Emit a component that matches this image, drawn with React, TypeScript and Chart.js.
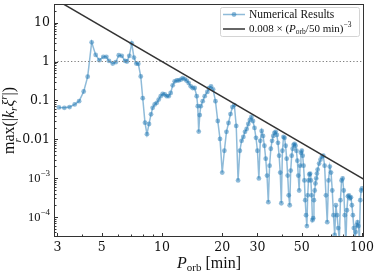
import React, { useEffect, useRef } from "react";
import { Chart, registerables } from "chart.js";

Chart.register(...registerables);

// Orbital period samples [min]
const periodMinutes: number[] = [
  3.05, 3.25, 3.45, 3.66, 3.85, 4.06, 4.25, 4.45, 4.66, 4.86,
  5.09, 5.27, 5.43, 5.67, 5.87, 6.08, 6.29, 6.53, 6.68, 6.86,
  7.06, 7.24, 7.44, 7.61, 7.83, 8.01, 8.22, 8.41, 8.61, 8.81,
  8.98, 9.19, 9.41, 9.63, 9.85, 10.08, 10.32, 10.56, 10.8, 11.05,
  11.31, 11.57, 11.85, 12.12, 12.41, 12.69, 12.99, 13.29, 13.6, 13.92,
  14.24, 14.57, 14.91, 15.09, 15.26, 15.44, 15.62, 15.98, 16.35, 16.85,
  17.18, 17.58,
  18, 18.5, 19, 19.5, 20, 20.5, 21, 21.5, 22, 22.5,
  23, 23.5, 24, 24.5, 25, 25.5, 26, 26.5, 27, 27.5,
  28, 28.5, 29, 29.5, 30, 30.5, 31, 31.5, 32, 32.5,
  33, 33.5, 34, 34.5, 35, 35.5, 36, 36.5, 37, 37.5,
  38, 38.5, 39, 39.5, 40, 40.5, 41, 41.5, 42, 42.5,
  43, 43.5, 44, 44.5, 45, 45.5, 46, 46.5, 47, 47.5,
  48, 48.5, 49, 49.5, 50, 50.5, 51, 51.5, 52, 52.5,
  53, 53.5, 54, 54.5, 55, 55.5, 56, 56.5, 57, 57.5,
  58, 58.5, 59, 59.5, 60, 61, 62, 63, 64, 65,
  66, 67, 68, 69, 70, 71, 72, 73, 74, 75,
  76, 77, 78, 79, 80, 81, 82, 83, 84, 85,
  86, 87, 88, 89, 90, 91, 92, 93, 94, 95,
  96, 97, 98, 99, 100,
];

// max_r(|k_r xi^r|)
const maxKXi: number[] = [
  0.0659, 0.0644, 0.0671, 0.0786, 0.0955, 0.169, 0.407, 3.11, 1.48, 1.08,
  1.32, 1.32, 1.04, 0.889, 0.96, 1.45, 1.4, 1.04, 1.0, 1.4,
  2.93, 1.26, 0.889, 0.874, 0.414, 0.114, 0.0267, 0.0135, 0.0247, 0.0437,
  0.0644, 0.0786, 0.0863, 0.105, 0.128, 0.147, 0.142, 0.128, 0.128, 0.155,
  0.244, 0.309, 0.327, 0.327, 0.341, 0.375, 0.353, 0.322, 0.279, 0.23,
  0.208, 0.208, 0.128, 0.0711, 0.0157, 0.0419, 0.0711, 0.0955, 0.128, 0.165,
  0.205, 0.23,
  0.193, 0.0955, 0.0295, 0.0102, 0.00139, 0.00506, 0.0155, 0.0262, 0.0445, 0.0671,
  0.0755, 0.022, 0.00087, 0.00506, 0.0091, 0.0115, 0.0155, 0.0184, 0.0247, 0.0313,
  0.0373, 0.0295, 0.0195, 0.0109, 0.00506, 0.00098, 0.0091, 0.0164, 0.0122, 0.0068,
  0.00316, 0.00116, 0.00024, 0.00209, 0.00569, 0.0091, 0.0122, 0.0146, 0.0155, 0.0129,
  0.0081, 0.00377, 0.00139, 0.000225, 0.00506, 0.0115, 0.0109, 0.0068, 0.00316, 0.00116,
  0.00036, 0.0002, 0.00156, 0.00377, 0.00569, 0.0072, 0.00763, 0.0068, 0.00506, 0.00281,
  0.00116, 0.00048, 0.00209, 0.0045, 0.00506, 0.00377, 0.00209, 0.00087, 0.00027, 0.000111,
  0.0000582, 0.00036, 0.00087, 0.00124, 0.00131, 0.00087, 0.00036, 0.0000828, 0.0000931, 0.00027,
  0.00048, 0.00073, 0.00098, 0.00131, 0.00166, 0.00236, 0.00298, 0.00356, 0.00377, 0.00209,
  0.00036, 0.0000736, 0.00087, 0.00198, 0.00139, 0.00048, 0.000111, 0.0000344, 0.0002, 0.000111,
  0.0000518, 0.0000256, 0.00027, 0.00087, 0.00098, 0.00048, 0.000111, 0.0000191, 0.000149, 0.00034,
  0.00036, 0.0003, 0.00032, 0.0002, 0.000111, 0.0000518, 0.0000191, 0.0000409, 0.0000618, 0.0000736,
  0.0000582, 0.0000256, 0.00027, 0.00048, 0.000543,
];

// Reference power law 0.008 (P/50 min)^-3, end points
const powerLawPeriod = [2.5, 102.3];
const powerLawValue = [64, 0.000934];

// Horizontal reference at unity
const unityPeriod = [2.884, 102.3];
const unityValue = [1, 1];

const xTicks = [3, 5, 10, 20, 30, 50, 100];
const xTickLabels = ["3", "5", "10", "20", "30", "50", "100"];
const xMinorTicks = [4, 6, 7, 8, 9, 40, 60, 70, 80, 90];
const yTicks = [10, 1, 0.1, 0.01, 0.001, 0.0001];
const yTickLabels = ["10", "1", "0.1", "0.01", "10^−3", "10^−4"];
const legendLabels = ["Numerical Results", "0.008 × (P_orb/50 min)^−3"];

const X_MIN = 2.884;
const X_MAX = 102.3;
const Y_MIN = 3.05e-5;
const Y_MAX = 30.2;

const BLUE = "rgba(31,119,180,0.5)";
const TICK_FONT = "'DejaVu Serif', serif";
const TEXT_FONT = "'Liberation Serif', serif";

type Run = { t: string; f: string; dy?: number };

function runsWidth(ctx: CanvasRenderingContext2D, runs: Run[]) {
  let w = 0;
  for (const r of runs) {
    ctx.font = r.f;
    w += ctx.measureText(r.t).width;
  }
  return w;
}

function drawRuns(ctx: CanvasRenderingContext2D, runs: Run[], x: number, y: number) {
  let cx = x;
  for (const r of runs) {
    ctx.font = r.f;
    ctx.fillText(r.t, cx, y + (r.dy || 0));
    cx += ctx.measureText(r.t).width;
  }
  return cx;
}

const decor = {
  id: "decor",
  afterDraw(chart: any) {
    const ctx: CanvasRenderingContext2D = chart.ctx;
    const a = chart.chartArea;
    const xs = chart.scales.x;
    const ys = chart.scales.y;
    ctx.save();

    // frame
    const L = Math.round(a.left) + 0.5;
    const R = Math.round(a.right) - 0.5;
    const T = Math.round(a.top) + 0.5;
    const B = Math.round(a.bottom) - 0.5;
    ctx.strokeStyle = "#333";
    ctx.lineWidth = 1;
    ctx.strokeRect(L, T, R - L, B - T);

    // y ticks
    ctx.beginPath();
    for (const v of yTicks) {
      const py = Math.round(ys.getPixelForValue(v)) + 0.5;
      ctx.moveTo(L, py);
      ctx.lineTo(L + 3.5, py);
    }
    for (let e = -5; e <= 1; e++) {
      for (let m = 2; m <= 9; m++) {
        const v = m * Math.pow(10, e);
        if (v <= Y_MIN || v >= Y_MAX) continue;
        const py = Math.round(ys.getPixelForValue(v)) + 0.5;
        ctx.moveTo(L, py);
        ctx.lineTo(L + 2, py);
      }
    }
    // x ticks
    for (const v of xTicks) {
      const px = Math.round(xs.getPixelForValue(v)) + 0.5;
      ctx.moveTo(px, B);
      ctx.lineTo(px, B - 3.5);
    }
    for (const v of xMinorTicks) {
      const px = Math.round(xs.getPixelForValue(v)) + 0.5;
      ctx.moveTo(px, B);
      ctx.lineTo(px, B - 2);
    }
    ctx.stroke();

    ctx.fillStyle = "#111";
    // y tick labels
    ctx.textBaseline = "middle";
    yTicks.forEach((v, i) => {
      const py = ys.getPixelForValue(v);
      const lab = yTickLabels[i];
      let runs: Run[];
      if (lab.includes("^")) {
        const [base, ex] = lab.split("^");
        runs = [
          { t: base, f: `12.5px ${TEXT_FONT}` },
          { t: ex, f: `9px ${TEXT_FONT}`, dy: -5 },
        ];
      } else {
        runs = [{ t: lab, f: `12.5px ${TICK_FONT}` }];
      }
      const w = runsWidth(ctx, runs);
      ctx.textAlign = "left";
      drawRuns(ctx, runs, a.left - 4 - w, py + 0.5);
    });

    // x tick labels
    ctx.textAlign = "center";
    ctx.font = `12.5px ${TICK_FONT}`;
    xTicks.forEach((v, i) => {
      const px = xs.getPixelForValue(v);
      ctx.fillText(xTickLabels[i], px, a.bottom + 11);
    });

    // x title: P_orb [min]
    ctx.textAlign = "left";
    ctx.textBaseline = "alphabetic";
    const xRuns: Run[] = [
      { t: "P", f: `italic 16px ${TEXT_FONT}` },
      { t: "orb", f: `11px ${TEXT_FONT}`, dy: 3 },
      { t: " [min]", f: `16px ${TEXT_FONT}` },
    ];
    const xw = runsWidth(ctx, xRuns);
    drawRuns(ctx, xRuns, (a.left + a.right) / 2 - xw / 2, 268);

    // y title: max_r(|k_r xi^r|)
    ctx.save();
    ctx.translate(14, (a.top + a.bottom) / 2);
    ctx.rotate(-Math.PI / 2);
    const yRuns: Run[] = [
      { t: "max", f: `16px ${TEXT_FONT}` },
      { t: "(|", f: `16px ${TEXT_FONT}` },
      { t: "k", f: `italic 16px ${TEXT_FONT}` },
      { t: "r", f: `italic 11px ${TEXT_FONT}`, dy: 3 },
      { t: "ξ", f: `italic 16px ${TEXT_FONT}` },
      { t: "r", f: `italic 11px ${TEXT_FONT}`, dy: -7 },
      { t: "|)", f: `16px ${TEXT_FONT}` },
    ];
    const yw = runsWidth(ctx, yRuns);
    const sx = -yw / 2;
    drawRuns(ctx, yRuns, sx, 0);
    ctx.font = `16px ${TEXT_FONT}`;
    const mw = ctx.measureText("max").width;
    ctx.font = `italic 11px ${TEXT_FONT}`;
    const rw = ctx.measureText("r").width;
    ctx.fillText("r", sx + mw / 2 - rw / 2, 7);
    ctx.restore();

    // legend
    const bx = 220.5, by = 7.5, bw = 139, bh = 29;
    ctx.beginPath();
    ctx.roundRect(bx, by, bw, bh, 2);
    ctx.fillStyle = "rgba(255,255,255,0.85)";
    ctx.fill();
    ctx.strokeStyle = "#d4d4d4";
    ctx.lineWidth = 1;
    ctx.stroke();

    const row1 = 14.5, row2 = 29;
    ctx.strokeStyle = BLUE;
    ctx.lineWidth = 1.5;
    ctx.beginPath();
    ctx.moveTo(223, row1);
    ctx.lineTo(245, row1);
    ctx.stroke();
    ctx.fillStyle = BLUE;
    ctx.beginPath();
    ctx.arc(234, row1, 2.4, 0, Math.PI * 2);
    ctx.fill();

    ctx.strokeStyle = "#333";
    ctx.beginPath();
    ctx.moveTo(223, row2);
    ctx.lineTo(245, row2);
    ctx.stroke();

    ctx.fillStyle = "#111";
    ctx.textBaseline = "middle";
    ctx.textAlign = "left";
    ctx.font = `11.5px ${TEXT_FONT}`;
    ctx.fillText(legendLabels[0], 249, row1 + 0.5);

    const lf = `11px ${TEXT_FONT}`;
    const lRuns: Run[] = [
      { t: "0.008 × (", f: lf },
      { t: "P", f: `italic 11px ${TEXT_FONT}` },
      { t: "orb", f: `7.5px ${TEXT_FONT}`, dy: 2.5 },
      { t: "/50 min)", f: lf },
      { t: "−3", f: `7.5px ${TEXT_FONT}`, dy: -4 },
    ];
    drawRuns(ctx, lRuns, 249, row2 + 0.5);

    ctx.restore();
  },
};

export default function App() {
  const ref = useRef<HTMLCanvasElement | null>(null);

  useEffect(() => {
    document.body.style.margin = "0";
    const canvas = ref.current!;
    const chart = new Chart(canvas, {
      type: "line",
      data: {
        datasets: [
          {
            label: legendLabels[1],
            data: powerLawPeriod.map((p, i) => ({ x: p, y: powerLawValue[i] })),
            borderColor: "#333",
            borderWidth: 1.5,
            pointRadius: 0,
            order: 0,
            clip: 0,
          },
          {
            label: "unity",
            data: unityPeriod.map((p, i) => ({ x: p, y: unityValue[i] })),
            borderColor: "#808080",
            borderWidth: 1.2,
            borderDash: [1.3, 2.1],
            pointRadius: 0,
            order: 1,
            clip: 0,
          },
          {
            label: legendLabels[0],
            data: periodMinutes.map((p, i) => ({ x: p, y: maxKXi[i] })),
            borderColor: BLUE,
            borderWidth: 1.5,
            pointRadius: 2.4,
            pointBackgroundColor: BLUE,
            pointBorderWidth: 0,
            order: 2,
            clip: 0,
          },
        ] as any,
      },
      options: {
        responsive: false,
        animation: false,
        devicePixelRatio: 1,
        events: [],
        layout: { padding: { left: 54, right: 10, top: 2, bottom: 36 } },
        scales: {
          x: { type: "logarithmic", min: X_MIN, max: X_MAX, display: false, bounds: "data" },
          y: { type: "logarithmic", min: Y_MIN, max: Y_MAX, display: false, bounds: "data" },
        },
        plugins: { legend: { display: false }, tooltip: { enabled: false } },
      } as any,
      plugins: [decor],
    });
    return () => chart.destroy();
  }, []);

  return (
    <div style={{ width: 374, height: 273 }}>
      <canvas ref={ref} width={374} height={273} style={{ display: "block" }} />
    </div>
  );
}
